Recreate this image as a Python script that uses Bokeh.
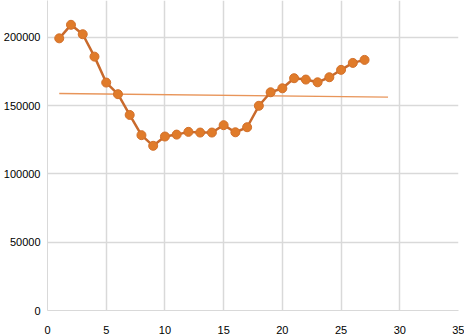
from bokeh.plotting import figure
from bokeh.models import Range1d, FixedTicker, NumeralTickFormatter
from bokeh.embed import file_html
from bokeh.resources import INLINE

x_vals = [1, 2, 3, 4, 5, 6, 7, 8, 9, 10, 11, 12, 13, 14, 15, 16, 17, 18, 19, 20, 21, 22, 23, 24, 25, 26, 27]
y_vals = [199300, 209200, 202300, 185900, 166900, 158400, 143200, 128400, 120600, 127400, 128800,
          130800, 130300, 130300, 135700, 130500, 134200, 149900, 159800, 162700, 170100, 169100,
          167100, 170800, 176200, 181300, 183500]
trend_x = [1, 29]
trend_y = [158900, 156200]
x_ticks = [0, 5, 10, 15, 20, 25, 30, 35]
y_ticks = [0, 50000, 100000, 150000, 200000]

p = figure(width=464, height=336, output_backend="svg", toolbar_location=None,
           x_range=Range1d(0, 35), y_range=Range1d(0, 227000),
           min_border_left=0, min_border_right=6, min_border_top=0, min_border_bottom=0)
p.outline_line_color = None
p.background_fill_color = "white"

for ax in (p.xaxis[0], p.yaxis[0]):
    ax.major_tick_line_color = None
    ax.minor_tick_line_color = None
    ax.major_label_text_font = "Liberation Sans"
    ax.major_label_text_font_size = "11px"
    ax.major_label_text_color = "black"
    ax.axis_line_color = "#d9d9d9"

p.xaxis.ticker = FixedTicker(ticks=x_ticks)
p.yaxis.ticker = FixedTicker(ticks=y_ticks)
p.yaxis.formatter = NumeralTickFormatter(format="0")
p.xaxis.major_label_standoff = 9
p.yaxis.major_label_standoff = 1

p.xgrid.ticker = FixedTicker(ticks=x_ticks)
p.ygrid.ticker = FixedTicker(ticks=y_ticks)
p.xgrid.grid_line_color = "#d9d9d9"
p.ygrid.grid_line_color = "#d9d9d9"
p.xgrid.grid_line_width = 1.5
p.ygrid.grid_line_width = 1.5

p.line(trend_x, trend_y, line_color="#e8955a", line_width=1.3)
p.line(x_vals, y_vals, line_color="#c96a2c", line_width=2.5)
p.scatter(x_vals, y_vals, size=9, fill_color="#e07b2a", line_color="#d2702a", line_width=1)

open("out.html", "w").write(file_html(p, INLINE))
